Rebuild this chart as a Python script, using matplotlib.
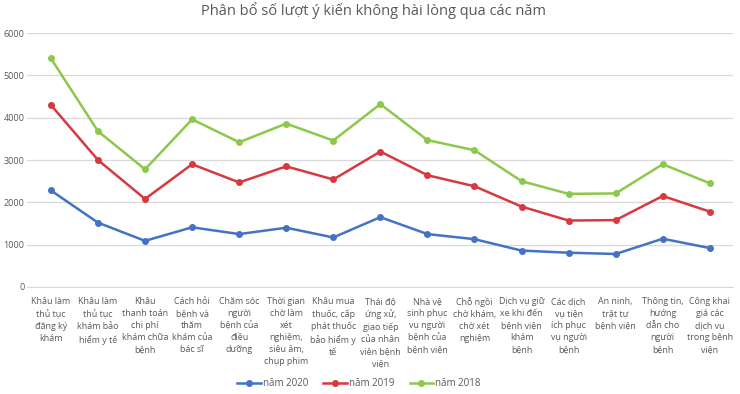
import matplotlib
matplotlib.use("Agg")
import matplotlib.pyplot as plt

plt.rcParams['font.family'] = ['Open Sans', 'DejaVu Sans']

categories = [
    "Khâu làm\nthủ tục\nđăng ký\nkhám",
    "Khâu làm\nthủ tục\nkhám bảo\nhiểm y tế",
    "Khâu\nthanh toán\nchi phí\nkhám chữa\nbệnh",
    "Cách hỏi\nbệnh và\nthăm\nkhám của\nbác sĩ",
    "Chăm sóc\nngười\nbệnh của\nđiều\ndưỡng",
    "Thời gian\nchờ làm\nxét\nnghiệm,\nsiêu âm,\nchụp phim",
    "Khâu mua\nthuốc, cấp\nphát thuốc\nbảo hiểm y\ntế",
    "Thái độ\nứng xử,\ngiao tiếp\ncủa nhân\nviên bệnh\nviện",
    "Nhà vệ\nsinh phục\nvụ người\nbệnh của\nbệnh viện",
    "Chỗ ngồi\nchờ khám,\nchờ xét\nnghiệm",
    "Dịch vụ giữ\nxe khi đến\nbệnh viện\nkhám\nbệnh",
    "Các dịch\nvụ tiện\ních phục\nvụ người\nbệnh",
    "An ninh,\ntrật tự\nbệnh viện",
    "Thông tin,\nhướng\ndẫn cho\nngười\nbệnh",
    "Công khai\ngiá các\ndịch vụ\ntrong bệnh\nviện",
]

nam_2020 = [2280, 1520, 1090, 1410, 1250, 1400, 1170, 1650, 1250, 1130, 860, 810, 780, 1140, 920]
nam_2019 = [4300, 3000, 2080, 2900, 2470, 2850, 2540, 3200, 2640, 2380, 1900, 1570, 1580, 2150, 1780]
nam_2018 = [5400, 3680, 2780, 3960, 3420, 3860, 3460, 4320, 3470, 3230, 2500, 2200, 2210, 2900, 2450]

series = [
    ("năm 2020", nam_2020, "#4472C4"),
    ("năm 2019", nam_2019, "#D63A3F"),
    ("năm 2018", nam_2018, "#8CC84B"),
]

fig = plt.figure(figsize=(7.4, 3.94), dpi=100)
ax = fig.add_axes([0.037, 0.2716, 0.954, 0.6446])

x = range(len(categories))
for name, vals, col in series:
    ax.plot(x, vals, color=col, lw=1.8, marker="o", ms=4, label=name)

ax.set_xlim(-0.5, len(categories) - 0.5)
ax.set_ylim(0, 6000)
ax.set_yticks(range(0, 6001, 1000))
ax.grid(axis="y", color="#d9d9d9", lw=0.9)
ax.set_axisbelow(True)
for s in ["top", "right", "left"]:
    ax.spines[s].set_visible(False)
ax.spines["bottom"].set_color("#d9d9d9")
ax.tick_params(axis="both", length=0, colors="#595959")
ax.tick_params(axis="y", labelsize=6.5, pad=2)
ax.set_xticks(list(x))
ax.set_xticklabels(categories, fontsize=6.4, linespacing=1.45, va="top")
ax.tick_params(axis="x", pad=7)

fig.suptitle("Phân bổ số lượt ý kiến không hài lòng qua các năm",
             x=0.505, y=0.995, fontsize=10.5, color="#595959")

fig.legend(loc="lower center", ncol=3, frameon=False, fontsize=7,
           bbox_to_anchor=(0.485, -0.01), handlelength=2.4, labelcolor="#595959",
           columnspacing=1.6, handletextpad=0.2)

fig.savefig("out.png", dpi=100)
